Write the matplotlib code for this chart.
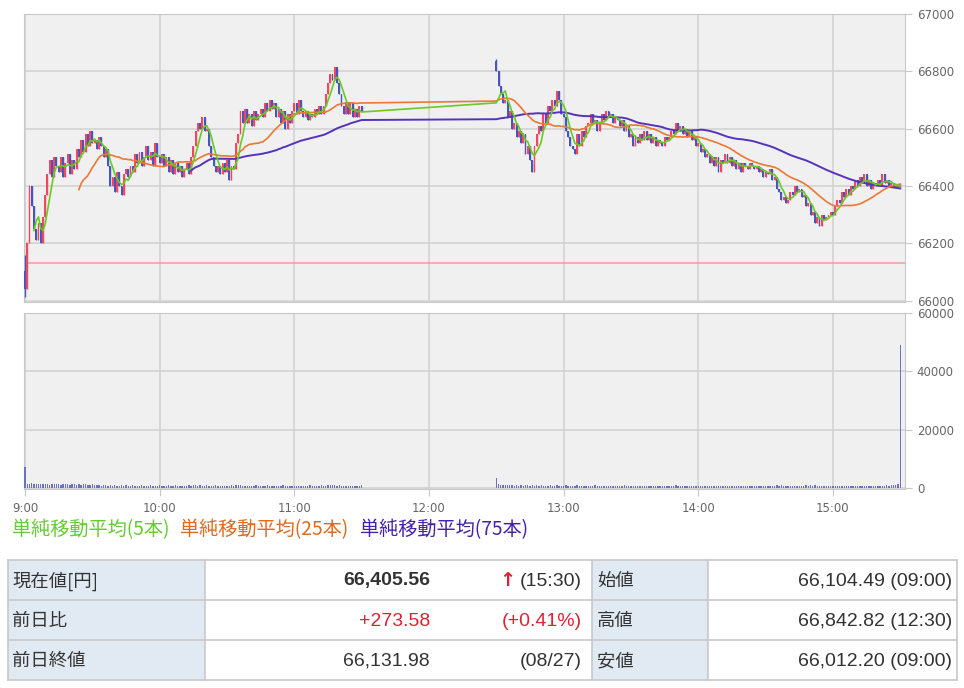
import numpy as np
import pandas as pd
import matplotlib
matplotlib.use("Agg")
import matplotlib.pyplot as plt
from matplotlib.patches import Rectangle

plt.rcParams['font.family'] = ['DejaVu Sans']

# ---------------- data ----------------
first_open = 66104.49
am_close = [
    66040, 66200, 66400, 66330, 66250, 66210, 66270, 66200, 66290, 66370,
    66440, 66490, 66430, 66500, 66470, 66450, 66500, 66430, 66480, 66510,
    66440, 66490, 66460, 66530, 66500, 66560, 66520, 66580, 66540, 66590,
    66550, 66560, 66530, 66570, 66540, 66500, 66530, 66470, 66400, 66430,
    66380, 66450, 66400, 66370, 66440, 66460, 66430, 66470, 66450, 66510,
    66480, 66520, 66470, 66500, 66540, 66490, 66520, 66470, 66550, 66500,
    66480, 66510, 66470, 66500, 66450, 66490, 66440, 66480, 66450, 66470,
    66430, 66460, 66480, 66440, 66500, 66540, 66590, 66620, 66600, 66640,
    66590, 66600, 66540, 66500, 66470, 66450, 66470, 66440, 66480, 66450,
    66490, 66420, 66470, 66460, 66550, 66580, 66660, 66620, 66670, 66620,
    66650, 66610, 66660, 66630, 66650, 66670, 66640, 66690, 66660, 66700,
    66670, 66690, 66640, 66670, 66620, 66660, 66600, 66650, 66620, 66660,
    66690, 66650, 66700, 66660, 66640, 66660, 66630, 66650, 66640, 66670,
    66650, 66680, 66650, 66680, 66720, 66760, 66790, 66770, 66815, 66760,
    66720, 66680, 66650, 66690, 66650, 66690, 66640, 66670, 66640, 66680,
    66660,
]
pm_first_open = 66835
pm_close = [
    66800, 66750, 66720, 66690, 66700, 66640, 66660, 66600, 66620, 66570,
    66590, 66550, 66580, 66510, 66540, 66490, 66450, 66540, 66580, 66610,
    66590, 66650, 66620, 66680, 66660, 66700, 66680, 66730, 66700, 66650,
    66640, 66590, 66570, 66540, 66530, 66510, 66580, 66540, 66590, 66570,
    66610, 66620, 66650, 66620, 66630, 66590, 66620, 66650, 66630, 66660,
    66640, 66650, 66620, 66640, 66630, 66610, 66630, 66590, 66610, 66570,
    66580, 66540, 66570, 66550, 66580, 66560, 66590, 66560, 66580, 66550,
    66570, 66540, 66560, 66550, 66540, 66570, 66560, 66570, 66590, 66580,
    66620, 66590, 66610, 66580, 66600, 66570, 66590, 66560, 66570, 66540,
    66550, 66520, 66530, 66500, 66510, 66480, 66500, 66470, 66500, 66450,
    66490, 66480, 66510, 66480, 66500, 66470, 66490, 66460, 66480, 66450,
    66480, 66470, 66460, 66480, 66470, 66460, 66470, 66450, 66460, 66430,
    66450, 66440, 66460, 66420, 66430, 66390, 66380, 66350, 66360, 66340,
    66350, 66380, 66370, 66400, 66380, 66390, 66360, 66370, 66330, 66340,
    66300, 66310, 66270, 66290, 66260, 66300, 66280, 66290, 66300, 66310,
    66300, 66330, 66350, 66340, 66380, 66360, 66390, 66370, 66400, 66390,
    66420, 66400, 66430, 66410, 66440, 66400, 66420, 66390, 66410, 66400,
    66420, 66400, 66440, 66410, 66420, 66400, 66410, 66395, 66400, 66395,
    66405.56,
]
first_high, first_low = 66160, 66012.20
pm_high = 66842.82

am_volume = [
    7300, 1500, 1300, 1600, 1200, 1400, 1300, 1500, 1200, 1400,
    1300, 1100, 1400, 1200, 1300, 1500, 1100, 1300, 1200, 1400,
    1100, 1300, 1200, 1000, 1300, 1100, 1200, 1400, 1000, 1100,
    1200, 1000, 900, 1100, 800, 900, 1000, 800, 900, 700,
    900, 800, 700, 900, 800, 1000, 700, 800, 900, 700,
    800, 700, 900, 800, 700, 800, 900, 700, 800, 700,
    900, 800, 700, 800, 1000, 800, 700, 900, 800, 700,
    800, 700, 800, 900, 700, 900, 1000, 800, 900, 700,
    800, 900, 700, 800, 700, 900, 800, 700, 800, 700,
    800, 700, 900, 800, 900, 1000, 900, 800, 700, 800,
    700, 800, 700, 900, 700, 800, 700, 800, 900, 700,
    800, 700, 800, 700, 800, 900, 700, 800, 700, 800,
    700, 800, 700, 800, 700, 800, 700, 900, 700, 800,
    700, 800, 900, 700, 800, 900, 1000, 900, 1000, 800,
    900, 800, 700, 800, 700, 800, 700, 800, 700, 800,
    900,
]
pm_volume = [
    3400, 1200, 1000, 1100, 900, 1000, 900, 1000, 800, 900,
    800, 900, 800, 900, 1000, 800, 900, 800, 900, 800,
    900, 800, 700, 800, 900, 700, 800, 900, 800, 700,
    800, 900, 700, 800, 700, 800, 900, 700, 800, 700,
    800, 700, 800, 700, 900, 700, 800, 700, 800, 700,
    800, 700, 700, 800, 700, 800, 700, 900, 700, 800,
    700, 800, 700, 800, 700, 700, 800, 700, 800, 700,
    800, 700, 800, 700, 700, 800, 700, 800, 700, 800,
    900, 800, 700, 800, 700, 800, 700, 800, 700, 800,
    700, 800, 700, 800, 700, 700, 800, 700, 800, 700,
    800, 700, 800, 700, 800, 700, 700, 800, 700, 800,
    700, 800, 700, 700, 800, 700, 800, 700, 800, 700,
    800, 700, 800, 700, 800, 900, 800, 900, 800, 700,
    800, 700, 800, 700, 800, 700, 800, 700, 900, 800,
    900, 800, 900, 800, 700, 800, 700, 800, 700, 800,
    700, 800, 700, 800, 700, 800, 700, 800, 700, 800,
    700, 800, 700, 800, 700, 800, 700, 800, 700, 800,
    700, 800, 700, 800, 900, 800, 900, 1000, 1100, 1200,
    49000,
]
prev_close = 66131.98

hour_minutes = [0, 60, 120, 180, 240, 300, 360]
hour_labels = ["9:00", "10:00", "11:00", "12:00", "13:00", "14:00", "15:00"]
legend_labels = ["単純移動平均(5本)", "単純移動平均(25本)", "単純移動平均(75本)"]

table_rows = [
    ["現在値[円]", "66,405.56", "(15:30)", "始値", "66,104.49 (09:00)"],
    ["前日比", "+273.58", "(+0.41%)", "高値", "66,842.82 (12:30)"],
    ["前日終値", "66,131.98", "(08/27)", "安値", "66,012.20 (09:00)"],
]

# ---------------- derived ----------------
closes = np.array(am_close + pm_close, dtype=float)
xs = np.concatenate([np.arange(0, len(am_close)), 210 + np.arange(0, len(pm_close))])
opens = np.empty_like(closes)
opens[0] = first_open
opens[1:] = closes[:-1]
opens[len(am_close)] = pm_first_open
highs = np.maximum(opens, closes)
lows = np.minimum(opens, closes)
highs[0] = first_high
lows[0] = first_low
highs[len(am_close)] = pm_high
volumes = np.array(am_volume + pm_volume, dtype=float)

s = pd.Series(closes)
ma5 = s.rolling(5).mean().values
ma25 = s.rolling(25).mean().values
ma75 = s.rolling(75).mean().values

RED = '#f2475f'
BLUE = '#4656bb'
cols = np.where(closes >= opens, RED, BLUE)

W, H = 964, 688
fig = plt.figure(figsize=(W / 100, H / 100), dpi=100)
fig.patch.set_facecolor('white')

def fr(l, t, r, b):
    return [l / W, 1 - b / H, (r - l) / W, (b - t) / H]

GRID = '#d2d2d2'
SPINE = '#c8c8c8'
TXT = '#666666'
xlim = (-0.45, 392.1)

# main price panel
ax = fig.add_axes(fr(24, 14, 905, 302))
ax.set_facecolor('#f0f0f0')
ax.set_xlim(*xlim)
ax.set_ylim(65995, 67000)
ax.set_xticks(hour_minutes)
ax.set_xticklabels([])
ax.set_yticks(np.arange(66000, 67001, 200))
ax.grid(True, color=GRID, linewidth=1.2)
ax.set_axisbelow(True)
ax.yaxis.tick_right()
ax.tick_params(axis='y', length=5, color=SPINE, labelcolor=TXT, labelsize=8.5, pad=3.5)
ax.tick_params(axis='x', length=0)
for sp in ax.spines.values():
    sp.set_color(SPINE)

ax.axhline(prev_close, color='#f49a9a', linewidth=1.1, zorder=2)
ax.vlines(xs, lows, highs, colors=cols, linewidth=1.0, zorder=3)
body_h = np.maximum(np.abs(closes - opens), 3.0)
ax.bar(xs, body_h, bottom=np.minimum(opens, closes), width=0.85, color=cols,
       linewidth=0, zorder=3)
ax.plot(xs, ma75, color='#5533bb', linewidth=1.4, zorder=4)
ax.plot(xs, ma25, color='#ee7733', linewidth=1.2, zorder=5)
ax.plot(xs, ma5, color='#66cc22', linewidth=1.2, zorder=6)

# volume panel
av = fig.add_axes(fr(24, 313, 905, 489))
av.set_facecolor('#f0f0f0')
av.set_xlim(*xlim)
av.set_ylim(-350, 60000)
av.set_yticks([0, 20000, 40000, 60000])
av.set_xticks(hour_minutes)
av.set_xticklabels(hour_labels)
av.grid(True, color=GRID, linewidth=1.2)
av.set_axisbelow(True)
av.yaxis.tick_right()
av.tick_params(axis='y', length=5, color=SPINE, labelcolor=TXT, labelsize=8.5, pad=3.5)
av.tick_params(axis='x', length=5, color=SPINE, labelcolor=TXT, labelsize=8.5, pad=4)
for sp in av.spines.values():
    sp.set_color(SPINE)
av.bar(xs, volumes, width=0.6, color='#6a72c4', linewidth=0, zorder=3)

# overlay for legend & table (pixel coordinates)
tx = fig.add_axes([0, 0, 1, 1])
tx.set_xlim(0, W)
tx.set_ylim(H, 0)
tx.axis('off')

CJK = ['Noto Sans CJK JP', 'DejaVu Sans']
NUM = ['Liberation Sans Narrow', 'Liberation Sans', 'Noto Sans CJK JP']
leg_colors = ['#66cc33', '#e06a20', '#4422aa']
leg_x = [12, 180, 360]
for lab, c, lx in zip(legend_labels, leg_colors, leg_x):
    tx.text(lx, 530, lab, color=c, fontsize=13.8, family=CJK, va='center', ha='left')

row_y = [560, 600, 640, 680]
x_left, x_d1, x_d2, x_d3, x_right = 8, 205, 592, 708, 957
LABEL_BG = '#e1eaf2'
BORDER = '#c8c8c8'
for i in range(3):
    y0, y1 = row_y[i], row_y[i + 1]
    tx.add_patch(Rectangle((x_left, y0), x_d1 - x_left, y1 - y0, facecolor=LABEL_BG, edgecolor='none'))
    tx.add_patch(Rectangle((x_d2, y0), x_d3 - x_d2, y1 - y0, facecolor=LABEL_BG, edgecolor='none'))
for y in row_y:
    tx.plot([x_left, x_right], [y, y], color=BORDER, linewidth=1.2)
for x in [x_left, x_d1, x_d2, x_d3, x_right]:
    tx.plot([x, x], [row_y[0], row_y[-1]], color=BORDER, linewidth=1.2)

DARK = '#333333'
TRED = '#dd2233'
for i, row in enumerate(table_rows):
    yc = (row_y[i] + row_y[i + 1]) / 2 + 1
    tx.text(12, yc, row[0], fontsize=13.2, family=CJK, color=DARK, va='center', ha='left')
    vcol = TRED if i == 1 else DARK
    tx.text(430, yc, row[1], fontsize=14, family=NUM, color=vcol, va='center', ha='right',
            fontweight='bold' if i == 0 else 'normal')
    tx.text(582, yc, row[2], fontsize=14, family=NUM, color=vcol, va='center', ha='right')
    tx.text(597, yc, row[3], fontsize=13.2, family=CJK, color=DARK, va='center', ha='left')
    tx.text(952, yc, row[4], fontsize=14, family=NUM, color=DARK, va='center', ha='right')
tx.text(507, (row_y[0] + row_y[1]) / 2 + 1, "↑", fontsize=14, family=['DejaVu Sans'],
        color=TRED, va='center', ha='center', fontweight='bold')

fig.savefig('out.png', dpi=100)
